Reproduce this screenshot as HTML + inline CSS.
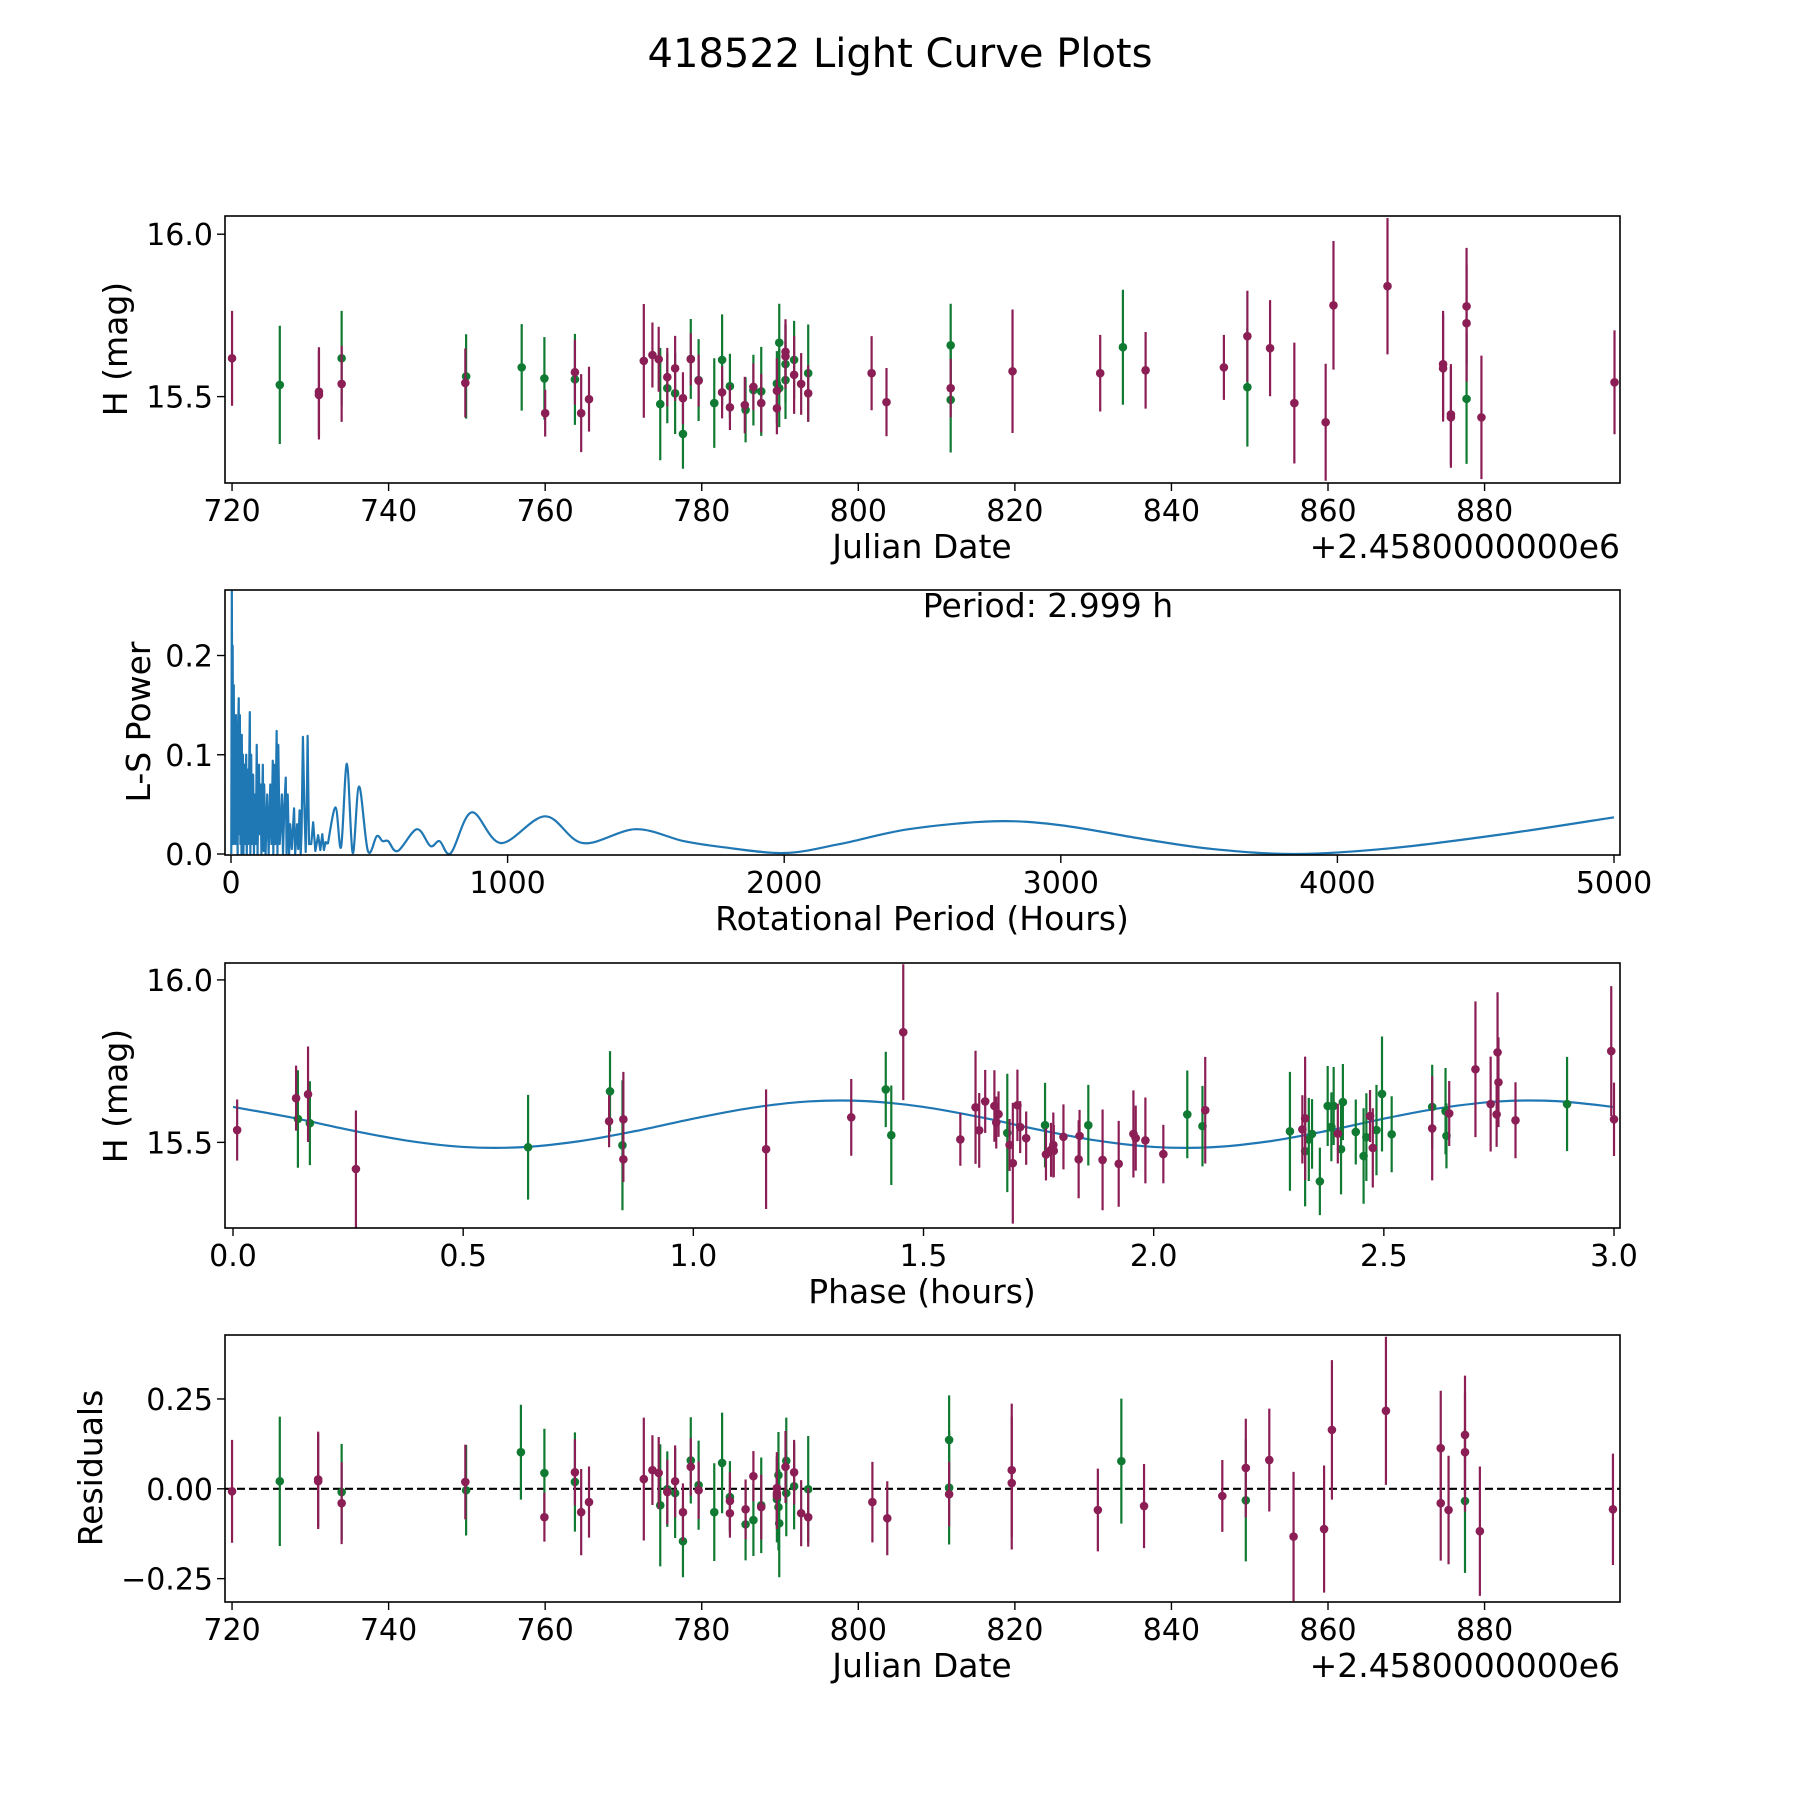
<!DOCTYPE html>
<html><head><meta charset="utf-8"><style>
html,body{margin:0;padding:0;background:#fff;}
svg{display:block;font-family:"DejaVu Sans","Liberation Sans",sans-serif;}
</style></head><body>
<svg id="fig" width="1800" height="1800" viewBox="0 0 1800 1800" xmlns="http://www.w3.org/2000/svg">
<rect width="1800" height="1800" fill="#fff"/>
<text x="900" y="67" font-size="40" text-anchor="middle">418522 Light Curve Plots</text>
</svg>
<script>
// ---------- Panel 1 data: H mag vs Julian Date ----------
const lcDayM=[720,731.1,731.1,734,749.8,760,763.8,764.6,765.6,772.6,773.7,774.5,775.6,776.6,777.6,778.6,779.6,782.6,783.6,785.5,786.6,787.6,789.6,789.6,790.7,790.7,791.8,792.7,793.6,801.7,803.6,811.8,819.7,830.9,836.7,846.7,849.7,852.6,855.7,859.7,860.7,867.6,874.7,874.7,875.7,875.7,877.7,877.7,879.6,896.6];
const lcMagM=[15.618,15.515,15.505,15.539,15.542,15.449,15.575,15.449,15.492,15.61,15.628,15.615,15.56,15.587,15.495,15.615,15.549,15.513,15.467,15.474,15.53,15.48,15.518,15.464,15.638,15.624,15.567,15.539,15.51,15.572,15.483,15.526,15.578,15.572,15.581,15.59,15.686,15.649,15.48,15.421,15.781,15.84,15.6,15.587,15.445,15.436,15.778,15.726,15.436,15.544];
const lcErrM=[0.146,0.137,0.137,0.117,0.106,0.072,0.1,0.12,0.1,0.175,0.1,0.1,0.09,0.1,0.08,0.08,0.08,0.08,0.07,0.087,0.072,0.09,0.1,0.08,0.1,0.1,0.12,0.095,0.087,0.114,0.105,0.09,0.19,0.118,0.118,0.1,0.14,0.148,0.186,0.18,0.198,0.21,0.164,0.164,0.155,0.155,0.18,0.18,0.19,0.16];
const lcDayG=[726.1,734,749.9,757,759.9,763.8,774.7,775.6,776.6,777.6,778.6,779.6,781.6,782.6,783.6,785.6,786.6,787.6,789.6,789.9,789.9,790.7,790.7,791.8,793.6,811.8,811.8,833.8,849.7,877.7];
const lcMagG=[15.536,15.618,15.562,15.59,15.556,15.553,15.477,15.526,15.51,15.385,15.616,15.551,15.48,15.613,15.532,15.459,15.52,15.516,15.54,15.666,15.526,15.6,15.551,15.613,15.572,15.658,15.49,15.652,15.529,15.493];
const lcErrG=[0.182,0.146,0.13,0.133,0.127,0.14,0.173,0.108,0.125,0.107,0.123,0.126,0.138,0.14,0.1,0.1,0.109,0.137,0.1,0.12,0.12,0.12,0.12,0.12,0.15,0.128,0.162,0.177,0.183,0.2];

// ---------- Panel 2 data: Lomb-Scargle periodogram ----------
const lsNoisePeriod=[1,3,5,6,8,10,12,14,16,18,20,22,24,26,28,30,32,34,36,38,39,41,43,45,48,50,53,55,57,60,62,65,68,70,73,75,78,80,83,86,90,93,96,101,104,107,110,115,118,120,125,131,136,142,146,151,153,156,160,165,168,171,176,180,184,188,193,198,201,205,210,214,220,228,232,239,243,248,252,255,260,265,270,274,277,282,290,297,305,315,323,330,336,342,350];
const lsNoisePower=[0,0.27,0.02,0.21,0.01,0.17,0.02,0.12,0.01,0.14,0.03,0.1,0,0.13,0.157,0.02,0.14,0.01,0.11,0,0.12,0.02,0.1,0,0.09,0.01,0.08,0.1,0,0.085,0.01,0.07,0.143,0,0.1,0.01,0.075,0.08,0,0.06,0.01,0.11,0,0.09,0.02,0.07,0,0.09,0.003,0.07,0,0.06,0,0.07,0.01,0.094,0,0.09,0.01,0.124,0,0.11,0.01,0.03,0.06,0,0.05,0.077,0,0.06,0,0.03,0.005,0.046,0,0.03,0.005,0.044,0,0.02,0.118,0.05,0.002,0.05,0.119,0.01,0.01,0.032,0.003,0.019,0.004,0.02,0.004,0.012,0.01];
const lsSmoothPeriod=[350,378,398,419,440,463,495,527,548,568,603,672,721,754,795,870,976,1136,1272,1463,1636,1775,2000,2200,2450,2760,3000,3300,3550,3850,4200,4600,5000];
const lsSmoothPower=[0.01,0.047,0.007,0.091,0.001,0.068,0.003,0.018,0.013,0.013,0.003,0.025,0.008,0.013,0.001,0.042,0.011,0.038,0.011,0.025,0.013,0.007,0.001,0.01,0.025,0.033,0.029,0.015,0.005,0,0.006,0.02,0.037];

// ---------- Panel 3 data: phased light curve ----------
const phM=[0.009,0.137,0.163,0.267,0.817,0.848,0.848,1.158,1.343,1.456,1.58,1.613,1.621,1.634,1.654,1.663,1.658,1.687,1.694,1.704,1.71,1.723,1.766,1.777,1.782,1.783,1.804,1.837,1.839,1.889,1.924,1.956,1.961,1.982,2.021,2.112,2.323,2.329,2.4,2.47,2.476,2.605,2.642,2.699,2.732,2.745,2.747,2.749,2.786,2.994,3.0];
const phMagM=[15.538,15.636,15.648,15.418,15.565,15.571,15.448,15.479,15.577,15.839,15.509,15.608,15.537,15.626,15.612,15.587,15.561,15.492,15.436,15.614,15.547,15.513,15.463,15.477,15.492,15.474,15.517,15.448,15.52,15.446,15.434,15.526,15.513,15.506,15.464,15.599,15.54,15.574,15.527,15.581,15.483,15.543,15.589,15.725,15.618,15.586,15.777,15.685,15.568,15.781,15.571];
const phErrM=[0.094,0.1,0.147,0.18,0.08,0.146,0.07,0.184,0.118,0.209,0.081,0.174,0.115,0.097,0.11,0.07,0.08,0.08,0.186,0.11,0.08,0.082,0.08,0.083,0.1,0.08,0.1,0.12,0.08,0.155,0.132,0.134,0.1,0.132,0.09,0.164,0.105,0.19,0.092,0.08,0.122,0.16,0.1,0.209,0.146,0.1,0.185,0.138,0.117,0.2,0.113];
const phG=[0.141,0.167,0.641,0.819,0.846,1.418,1.43,1.682,1.764,1.858,2.073,2.106,2.296,2.329,2.337,2.344,2.361,2.378,2.386,2.391,2.407,2.411,2.439,2.456,2.462,2.484,2.496,2.517,2.605,2.634,2.636,2.898];
const phMagG=[15.572,15.559,15.485,15.657,15.491,15.663,15.522,15.529,15.553,15.553,15.586,15.55,15.534,15.473,15.509,15.526,15.38,15.612,15.548,15.612,15.479,15.624,15.532,15.458,15.516,15.538,15.649,15.525,15.609,15.596,15.52,15.618];
const phErrG=[0.15,0.129,0.161,0.124,0.2,0.116,0.153,0.182,0.13,0.124,0.135,0.124,0.183,0.17,0.128,0.107,0.104,0.123,0.106,0.12,0.139,0.117,0.1,0.147,0.135,0.139,0.177,0.117,0.13,0.133,0.1,0.145];
const modelPhase=[0,0.125,0.25,0.375,0.5,0.625,0.75,0.875,1,1.125,1.25,1.375,1.5,1.625,1.75,1.875,2,2.125,2.25,2.375,2.5,2.625,2.75,2.875,3];
const modelMag=[15.609,15.577,15.539,15.506,15.486,15.485,15.503,15.535,15.573,15.606,15.626,15.627,15.609,15.577,15.539,15.506,15.486,15.485,15.503,15.535,15.573,15.606,15.626,15.627,15.609];

// ---------- Panel 4 data: residuals ----------
const resDayM=[720,731,731,734,749.8,759.9,763.8,764.6,765.6,772.6,773.7,774.5,775.6,776.6,777.6,778.6,779.6,783.6,783.6,785.6,786.6,787.6,789.6,789.6,789.6,790.7,791.8,792.7,793.6,801.8,803.7,811.6,819.6,819.6,830.6,836.5,846.5,849.5,852.5,855.6,859.5,860.5,867.4,874.4,874.4,875.4,877.5,877.5,879.4,896.4];
const resValM=[-0.007,0.021,0.026,-0.04,0.019,-0.079,0.046,-0.065,-0.037,0.027,0.052,0.044,-0.009,0.021,-0.065,0.061,-0.004,-0.034,-0.068,-0.057,0.035,-0.051,0.002,-0.012,-0.02,0.061,0.046,-0.068,-0.079,-0.037,-0.082,-0.015,0.052,0.016,-0.059,-0.048,-0.02,0.058,0.08,-0.133,-0.112,0.164,0.217,0.113,-0.04,-0.059,0.15,0.102,-0.118,-0.057];
const resErrM=[0.143,0.133,0.133,0.114,0.104,0.068,0.092,0.12,0.099,0.171,0.097,0.1,0.09,0.1,0.08,0.08,0.08,0.08,0.068,0.083,0.07,0.09,0.1,0.1,0.08,0.1,0.09,0.092,0.082,0.112,0.103,0.09,0.185,0.185,0.115,0.117,0.1,0.137,0.143,0.18,0.177,0.194,0.206,0.16,0.16,0.151,0.165,0.165,0.18,0.155];
const resDayG=[726.1,734,749.9,756.9,759.9,763.8,774.7,775.6,776.6,777.6,778.6,779.6,781.6,782.6,783.6,785.6,786.6,787.6,789.6,789.8,789.9,789.8,790.8,790.8,791.8,793.6,811.6,811.6,833.6,849.5,877.5];
const resValG=[0.021,-0.009,-0.004,0.102,0.044,0.019,-0.046,-0.001,-0.012,-0.146,0.079,0.01,-0.065,0.072,-0.023,-0.099,-0.087,-0.046,-0.029,0.038,-0.096,-0.051,0.078,-0.012,0.007,-0.001,0.136,0.003,0.077,-0.032,-0.034];
const resErrG=[0.18,0.134,0.126,0.132,0.123,0.138,0.17,0.105,0.125,0.1,0.12,0.124,0.136,0.14,0.1,0.1,0.1,0.133,0.12,0.12,0.15,0.12,0.12,0.12,0.12,0.148,0.124,0.158,0.174,0.17,0.2];

const xTicksJD=[720,740,760,780,800,820,840,860,880];
const yTicksMag=[15.5,16.0];
const yTicksLS=[0.0,0.1,0.2];
const xTicksLS=[0,1000,2000,3000,4000,5000];
const xTicksPh=[0.0,0.5,1.0,1.5,2.0,2.5,3.0];
const yTicksRes=[-0.25,0,0.25];

const NS="http://www.w3.org/2000/svg";
const svg=document.getElementById('fig');
const COLM="#8a1e55", COLG="#117a32", COLB="#1f77b4";
const TICKFS=30, LABFS=33;
function mk(tag,attrs,parent){const e=document.createElementNS(NS,tag);for(const k in attrs)e.setAttribute(k,attrs[k]);(parent||svg).appendChild(e);return e;}
function fmt(v,d){let s=v.toFixed(d);if(v<0)s="\u2212"+s.slice(1);return s;}

function panel(id,L,R,T,B,x0,x1,y0,y1){
  const g=mk('g',{});
  
  
  const cp=mk('clipPath',{id:'clip-'+id},g);
  mk('rect',{x:L,y:T,width:R-L,height:B-T},cp);
  const plot=mk('g',{'clip-path':'url(#clip-'+id+')'},g);
  
  
  return {g,plot,L,R,T,B,sx:v=>L+(v-x0)/(x1-x0)*(R-L),sy:v=>B-(v-y0)/(y1-y0)*(B-T)};
}
function frame(p,name){
  const r=mk('rect',{x:p.L,y:p.T,width:p.R-p.L,height:p.B-p.T,fill:'none',stroke:'#000','stroke-width':1.6},p.g);
  
  
}
function xticks(p,ticks,dec,name){
  ticks.forEach(t=>{const x=p.sx(t);
    mk('line',{x1:x,x2:x,y1:p.B,y2:p.B+8,stroke:'#000','stroke-width':1.4},p.g);
    const tx=mk('text',{x:x,y:p.B+38,'font-size':TICKFS,'text-anchor':'middle'},p.g);
    
    
    tx.textContent=fmt(t,dec);});
}
function yticks(p,ticks,dec,name){
  ticks.forEach(t=>{const y=p.sy(t);
    mk('line',{x1:p.L-8,x2:p.L,y1:y,y2:y,stroke:'#000','stroke-width':1.4},p.g);
    const tx=mk('text',{x:p.L-12,y:y+11,'font-size':TICKFS,'text-anchor':'end'},p.g);
    
    
    tx.textContent=fmt(t,dec);});
}
function label(p,txt,x,y,rot,name,anchor){
  const t=mk('text',{x:x,y:y,'font-size':LABFS,'text-anchor':anchor||'middle'},p.g);
  if(rot)t.setAttribute('transform','rotate(-90 '+x+' '+y+')');
  
  
  t.textContent=txt;
}
function errpts(p,xs,ys,es,col,name){
  xs.forEach((xv,i)=>{const x=p.sx(xv);
    const l=mk('line',{x1:x,x2:x,y1:p.sy(ys[i]+es[i]),y2:p.sy(ys[i]-es[i]),stroke:col,'stroke-width':2.2},p.plot);
    
    
    const c=mk('circle',{cx:x,cy:p.sy(ys[i]),r:4.3,fill:col},p.plot);
    
    
  });
}
function crPath(p,xs,ys){
  const P=xs.map((x,i)=>[p.sx(x),p.sy(ys[i])]);
  let d='M'+P[0][0]+','+P[0][1];
  for(let i=0;i<P.length-1;i++){
    const p0=P[Math.max(0,i-1)],p1=P[i],p2=P[i+1],p3=P[Math.min(P.length-1,i+2)];
    const c1=[p1[0]+(p2[0]-p0[0])/6,p1[1]+(p2[1]-p0[1])/6];
    const c2=[p2[0]-(p3[0]-p1[0])/6,p2[1]-(p3[1]-p1[1])/6];
    d+=' C'+c1[0]+','+c1[1]+' '+c2[0]+','+c2[1]+' '+p2[0]+','+p2[1];
  }
  return d;
}

// Panel 1
const p1=panel('light-curve',225,1620,216,483,719.1,897.3,15.234,16.056);
errpts(p1,lcDayG,lcMagG,lcErrG,COLG,'green-obs');
errpts(p1,lcDayM,lcMagM,lcErrM,COLM,'magenta-obs');
frame(p1,'light-curve');
xticks(p1,xTicksJD,0,'light-curve');yticks(p1,yTicksMag,1,'light-curve');
label(p1,'Julian Date',922,558,false,'light-curve-x-axis-title');
label(p1,'+2.4580000000e6',1620,558,false,'light-curve-x-offset','end');
label(p1,'H (mag)',127,349,true,'light-curve-y-axis-title');

// Panel 2
const p2=panel('periodogram',225,1620,590,855,-21.7,5021.7,-0.001,0.266);
let pts=lsNoisePeriod.map((v,i)=>p2.sx(v)+','+p2.sy(lsNoisePower[i])).join(' ');
const nl=mk('polyline',{points:pts,fill:'none',stroke:COLB,'stroke-width':2.2,'stroke-linejoin':'round'},p2.plot);


const sl=mk('path',{d:crPath(p2,lsSmoothPeriod,lsSmoothPower),fill:'none',stroke:COLB,'stroke-width':2.2},p2.plot);


frame(p2,'periodogram');
xticks(p2,xTicksLS,0,'periodogram');yticks(p2,yTicksLS,1,'periodogram');
label(p2,'Rotational Period (Hours)',922,930,false,'periodogram-x-axis-title');
label(p2,'L-S Power',150,722,true,'periodogram-y-axis-title');
label(p2,'Period: 2.999 h',1048,617,false,'period-annotation');

// Panel 3
const p3=panel('phase-curve',225,1620,963,1228,-0.0174,3.013,15.2365,16.052);
const ml=mk('path',{d:crPath(p3,modelPhase,modelMag),fill:'none',stroke:COLB,'stroke-width':2.2},p3.plot);


errpts(p3,phG,phMagG,phErrG,COLG,'green-phased');
errpts(p3,phM,phMagM,phErrM,COLM,'magenta-phased');
frame(p3,'phase-curve');
xticks(p3,xTicksPh,1,'phase-curve');yticks(p3,yTicksMag,1,'phase-curve');
label(p3,'Phase (hours)',922,1303,false,'phase-curve-x-axis-title');
label(p3,'H (mag)',127,1096,true,'phase-curve-y-axis-title');

// Panel 4
const p4=panel('residuals',225,1620,1335,1602,719.1,897.3,-0.315,0.428);
const zl=mk('line',{x1:p4.L,x2:p4.R,y1:p4.sy(0),y2:p4.sy(0),stroke:'#000','stroke-width':2.2,'stroke-dasharray':'8,4'},p4.plot);


errpts(p4,resDayG,resValG,resErrG,COLG,'green-residual');
errpts(p4,resDayM,resValM,resErrM,COLM,'magenta-residual');
frame(p4,'residuals');
xticks(p4,xTicksJD,0,'residuals');yticks(p4,yTicksRes,2,'residuals');
label(p4,'Julian Date',922,1677,false,'residuals-x-axis-title');
label(p4,'+2.4580000000e6',1620,1677,false,'residuals-x-offset','end');
label(p4,'Residuals',102,1468,true,'residuals-y-axis-title');
</script>
</body></html>
